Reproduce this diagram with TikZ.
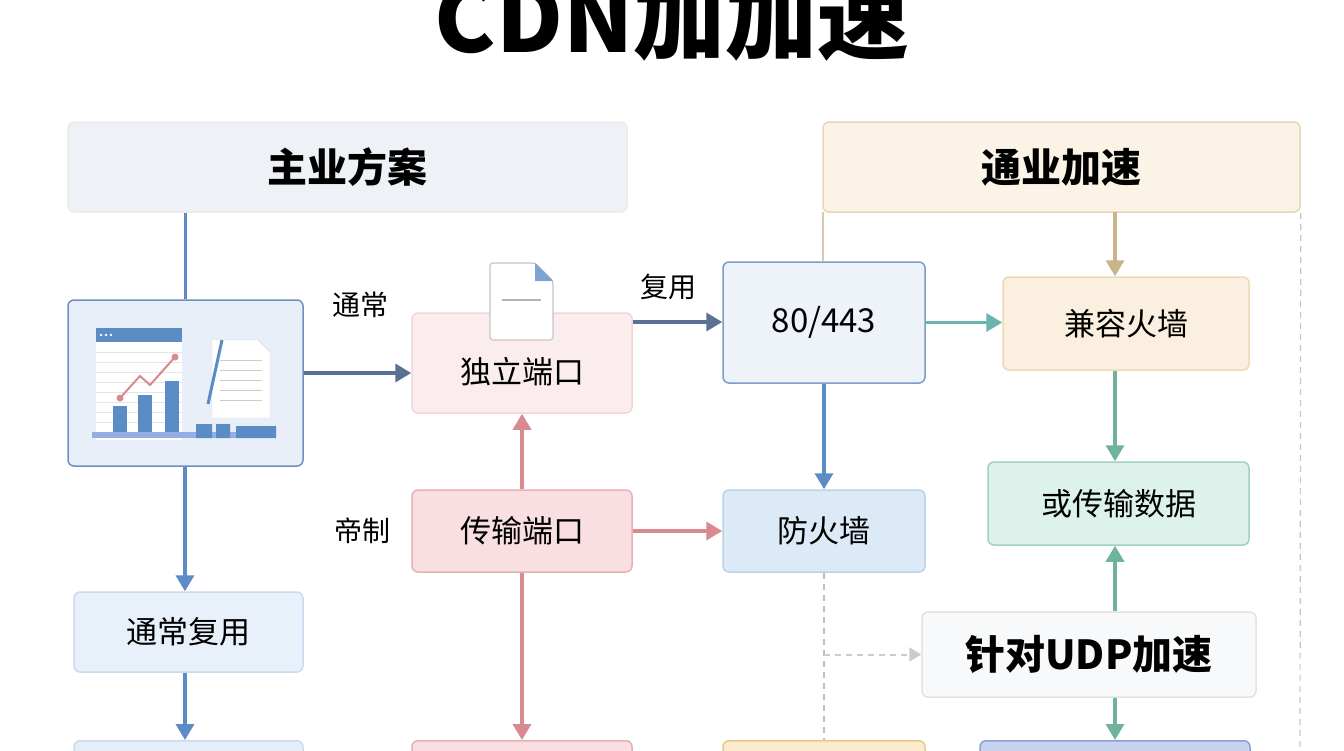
\documentclass[tikz,border=0pt]{standalone}
\usepackage{fontspec}
\setmainfont{Noto Sans CJK SC}
\usetikzlibrary{arrows.meta}
\definecolor{dblue}{HTML}{5A7193}
\definecolor{mblue}{HTML}{5B8CC6}
\definecolor{red1}{HTML}{D98A8F}
\definecolor{teal1}{HTML}{6BB5AE}
\definecolor{green1}{HTML}{6FB39A}
\definecolor{tan1}{HTML}{C9B48A}
\tikzset{
 box/.style={draw, rounded corners=6pt, line width=1.5pt, font=\fontsize{31}{34}\selectfont},
 arr/.style={line width=3.5pt, -{Triangle[length=16pt,width=18pt]}},
 lab/.style={font=\fontsize{28}{32}\selectfont},
}
\begin{document}
\begin{tikzpicture}[x=1pt,y=-1pt]
\useasboundingbox (0,0) rectangle (1344,750);
\fill[white] (0,0) rectangle (1344,750);
\node[font=\fontsize{92}{92}\selectfont\bfseries, anchor=base] (title) at (672,52) {CDN加加速};
% header boxes
\node[box, draw=gray!15, fill={rgb,255:red,238;green,241;blue,246}, minimum width=559pt, minimum height=90pt, font=\fontsize{40}{44}\selectfont\bfseries] (zhu) at (347.5,167) {主业方案};
\node[box, draw={rgb,255:red,232;green,214;blue,181}, fill={rgb,255:red,251;green,243;blue,230}, minimum width=477pt, minimum height=90pt, font=\fontsize{40}{44}\selectfont\bfseries] (tong) at (1061.5,167) {通业加速};
% image box
\node[box, draw={rgb,255:red,111;green,143;blue,191}, fill={rgb,255:red,232;green,239;blue,248}, minimum width=235pt, minimum height=166pt] (img) at (185.5,383) {};
\begin{scope}
\fill[white] (96,330) rectangle (182,440);
\fill[mblue] (96,328) rectangle (182,342);
\foreach \x in {101,106,111} \fill[white] (\x,335) circle (1.3pt);
\foreach \y in {352,362,372,382,392,402,412,422} \draw[gray!20] (96,\y) -- (182,\y);
\fill[mblue] (113,406) rectangle (127,432);
\fill[mblue] (138,395) rectangle (152,432);
\fill[mblue] (165,381) rectangle (179,432);
\draw[red1, line width=2pt] (120,398) -- (140,376) -- (150,385) -- (175,357);
\fill[red1] (120,398) circle (3.5pt) (175,357) circle (3.5pt);
\fill[white, draw=gray!30] (212,340) -- (258,340) -- (270,352) -- (270,418) -- (212,418) -- cycle;
\foreach \y in {360,370,380,390,400} \draw[gray!40, line width=1pt] (220,\y) -- (262,\y);
\draw[mblue, line width=3pt] (222,340) -- (208,404);
\fill[blue!15!mblue!60] (92,432) rectangle (276,438);
\fill[mblue] (196,424) rectangle (212,438) (216,424) rectangle (230,438) (236,426) rectangle (276,438);
\end{scope}
% middle column
\node[box, draw={rgb,255:red,242;green,214;blue,214}, fill={rgb,255:red,251;green,237;blue,237}, minimum width=220pt, minimum height=100pt, text depth=0pt] (duli) at (522,363) {\raisebox{-14pt}{独立端口}};
\fill[white, draw=gray!45, line width=1.2pt, rounded corners=3pt] (490,263) -- (535,263) -- (553,281) -- (553,340) -- (490,340) -- cycle;
\fill[mblue!80] (535,263) -- (553,281) -- (535,281) -- cycle;
\draw[gray!60, line width=1.5pt] (502,300) -- (541,300);
\node[box, draw={rgb,255:red,232;green,175;blue,180}, fill={rgb,255:red,249;green,223;blue,225}, minimum width=220pt, minimum height=82pt] (chuan) at (522,531) {传输端口};
\node[box, draw={rgb,255:red,127;green,156;blue,196}, fill={rgb,255:red,238;green,243;blue,250}, minimum width=202pt, minimum height=121pt, font=\fontsize{33}{36}\selectfont] (p80) at (824,322.5) {80/443};
\node[box, draw={rgb,255:red,185;green,211;blue,236}, fill={rgb,255:red,220;green,234;blue,247}, minimum width=202pt, minimum height=82pt] (fang) at (824,531) {防火墙};
% right column
\node[box, draw={rgb,255:red,238;green,217;blue,182}, fill={rgb,255:red,251;green,240;blue,223}, minimum width=246pt, minimum height=93pt] (jian) at (1126,323.5) {兼容火墙};
\node[box, draw={rgb,255:red,158;green,211;blue,192}, fill={rgb,255:red,221;green,242;blue,234}, minimum width=261pt, minimum height=83pt] (huo) at (1118.5,503.5) {或传输数据};
\node[box, draw={rgb,255:red,224;green,227;blue,230}, fill={rgb,255:red,248;green,249;blue,250}, minimum width=334pt, minimum height=85pt, font=\fontsize{40}{44}\selectfont\bfseries] (udp) at (1089,654.5) {针对UDP加速};
% left lower
\node[box, draw={rgb,255:red,201;green,219;blue,238}, fill={rgb,255:red,232;green,240;blue,249}, minimum width=229pt, minimum height=80pt] (tcfy) at (188.5,632) {通常复用};
% bottom partial boxes
\node[box, draw={rgb,255:red,201;green,219;blue,238}, fill={rgb,255:red,229;green,238;blue,248}, minimum width=229pt, minimum height=60pt, anchor=north] (b1) at (188.5,740) {};
\node[box, draw={rgb,255:red,232;green,175;blue,180}, fill={rgb,255:red,249;green,223;blue,225}, minimum width=220pt, minimum height=60pt, anchor=north] (b2) at (522,740) {};
\node[box, draw={rgb,255:red,232;green,201;blue,138}, fill={rgb,255:red,251;green,235;blue,207}, minimum width=202pt, minimum height=60pt, anchor=north] (b3) at (824,740) {};
\node[box, draw={rgb,255:red,141;green,160;blue,214}, fill={rgb,255:red,201;green,211;blue,240}, minimum width=270pt, minimum height=60pt, anchor=north] (b4) at (1115,740) {};
% labels
\node[lab] (l1) at (360,305) {通常};
\node[lab] (l2) at (668,287) {复用};
\node[lab] (l3) at (362,531) {帝制};
\coordinate (tl) at (823,212);
\coordinate (de) at (1300,750);
% connectors
\draw[mblue, line width=3pt] (zhu.south -| img.north) -- (img.north);
\draw[arr, dblue] (img.east |- 0,373) -- (duli.west |- 0,373);
\draw[arr, dblue] (duli.east |- 0,322) -- (p80.west |- 0,322);
\draw[arr, teal1] (p80.east) -- (jian.west |- p80.east);
\draw[arr, tan1] (1115,212) -- (jian.north -| 1115,0);
\draw[tan1!70, line width=2pt] (tl) -- (p80.north -| tl);
\draw[arr, green1] (jian.south -| 1115,0) -- (huo.north -| 1115,0);
\draw[arr, mblue] (p80.south) -- (fang.north);
\draw[arr, red1] (chuan.east) -- (fang.west);
\draw[arr, red1] (chuan.north) -- (duli.south);
\draw[arr, red1] (chuan.south) -- (b2.north);
\draw[arr, green1] (udp.north -| 1115,0) -- (huo.south -| 1115,0);
\draw[arr, green1] (udp.south -| 1115,0) -- (b4.north);
\draw[arr, mblue] (img.south -| 185,0) -- (tcfy.north -| 185,0);
\draw[arr, mblue] (tcfy.south -| 185,0) -- (b1.north -| 185,0);
\draw[gray!50, dash pattern=on 6pt off 5pt, line width=1.2pt] (fang.south) -- (b3.north);
\draw[gray!40, dash pattern=on 6pt off 5pt, line width=2pt, -{Triangle[length=12pt,width=14pt]}] (fang.south |- udp.west) -- (udp.west);
\draw[gray!45, dash pattern=on 6pt off 5pt, line width=1.2pt] (tong.south east) -- (de);
\end{tikzpicture}
\end{document}
